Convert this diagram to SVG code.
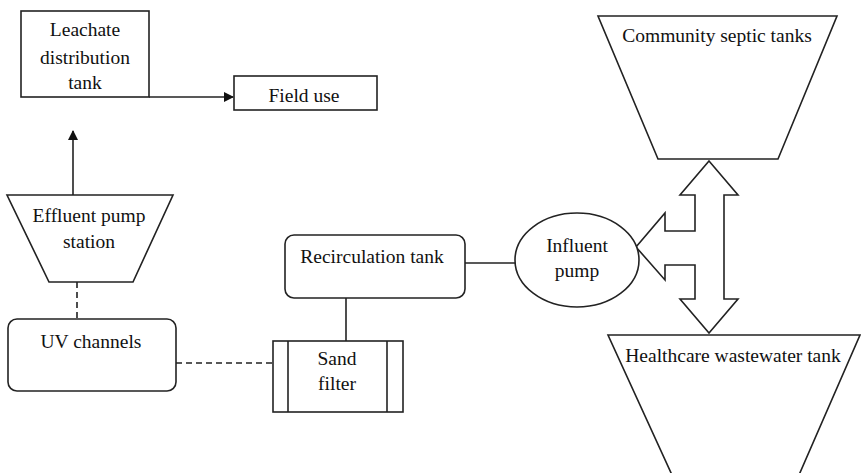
<svg xmlns="http://www.w3.org/2000/svg" width="861" height="473" viewBox="0 0 861 473">
<defs>
<style>
.s{fill:#fff;stroke:#222;stroke-width:1.6}
.t{font-family:'Liberation Serif','Times New Roman',serif;font-size:19.5px;fill:#111;text-anchor:middle}
.c{fill:none;stroke:#222;stroke-width:1.6}
.d{fill:none;stroke:#222;stroke-width:1.6;stroke-dasharray:6,4}
</style>
<marker id="ah" markerWidth="10" markerHeight="10" refX="9" refY="5" orient="auto" markerUnits="userSpaceOnUse">
<path d="M0,0 L10,5 L0,10 z" fill="#111"/>
</marker>
</defs>
<rect width="861" height="473" fill="#fff"/>
<g id="connectors">
<line class="c" x1="149" y1="97" x2="233" y2="97" marker-end="url(#ah)"/>
<line class="c" x1="73" y1="195" x2="73" y2="131" marker-end="url(#ah)"/>
<line class="d" x1="77" y1="282" x2="77" y2="319"/>
<line class="d" x1="176" y1="363" x2="273" y2="363"/>
<line class="c" x1="346" y1="298" x2="346" y2="341"/>
<line class="c" x1="465" y1="263" x2="515" y2="263"/>
<path class="s" d="M709,161 L738,195 L724,195 L724,299 L738,299 L709,333 L680,299 L695,299 L695,265 L665,265 L665,280 L636,247 L665,213 L665,231 L695,231 L695,195 L680,195 Z"/>
</g>
<g id="leachate">
<rect class="s" x="21" y="11" width="128" height="86"/>
<text class="t" x="85" y="36">Leachate</text>
<text class="t" x="85" y="64">distribution</text>
<text class="t" x="85" y="89">tank</text>
</g>
<g id="field">
<rect class="s" x="234" y="76" width="143" height="34"/>
<text class="t" x="304" y="102">Field use</text>
</g>
<g id="effluent">
<polygon class="s" points="7,195 173,195 133,282 49,282"/>
<text class="t" x="89" y="222">Effluent pump</text>
<text class="t" x="89" y="248">station</text>
</g>
<g id="uv">
<rect class="s" x="8" y="319" width="168" height="72" rx="9"/>
<text class="t" x="91" y="348">UV channels</text>
</g>
<g id="recirc">
<rect class="s" x="285" y="235" width="180" height="63" rx="9"/>
<text class="t" x="372" y="263">Recirculation tank</text>
</g>
<g id="sand">
<rect class="s" x="273" y="341" width="130" height="71"/>
<line class="c" x1="288" y1="341" x2="288" y2="412"/>
<line class="c" x1="387" y1="341" x2="387" y2="412"/>
<text class="t" x="337" y="365">Sand</text>
<text class="t" x="337" y="390">filter</text>
</g>
<g id="influent">
<ellipse class="s" cx="577" cy="260" rx="62" ry="47"/>
<text class="t" x="577" y="252">Influent</text>
<text class="t" x="577" y="277">pump</text>
</g>
<g id="community">
<polygon class="s" points="598,16 837,16 778,159 658,159"/>
<text class="t" x="717" y="42">Community septic tanks</text>
</g>
<g id="healthcare">
<polygon class="s" points="608,335 860,335 799,475 672,475"/>
<text class="t" x="733" y="362">Healthcare wastewater tank</text>
</g>
</svg>
